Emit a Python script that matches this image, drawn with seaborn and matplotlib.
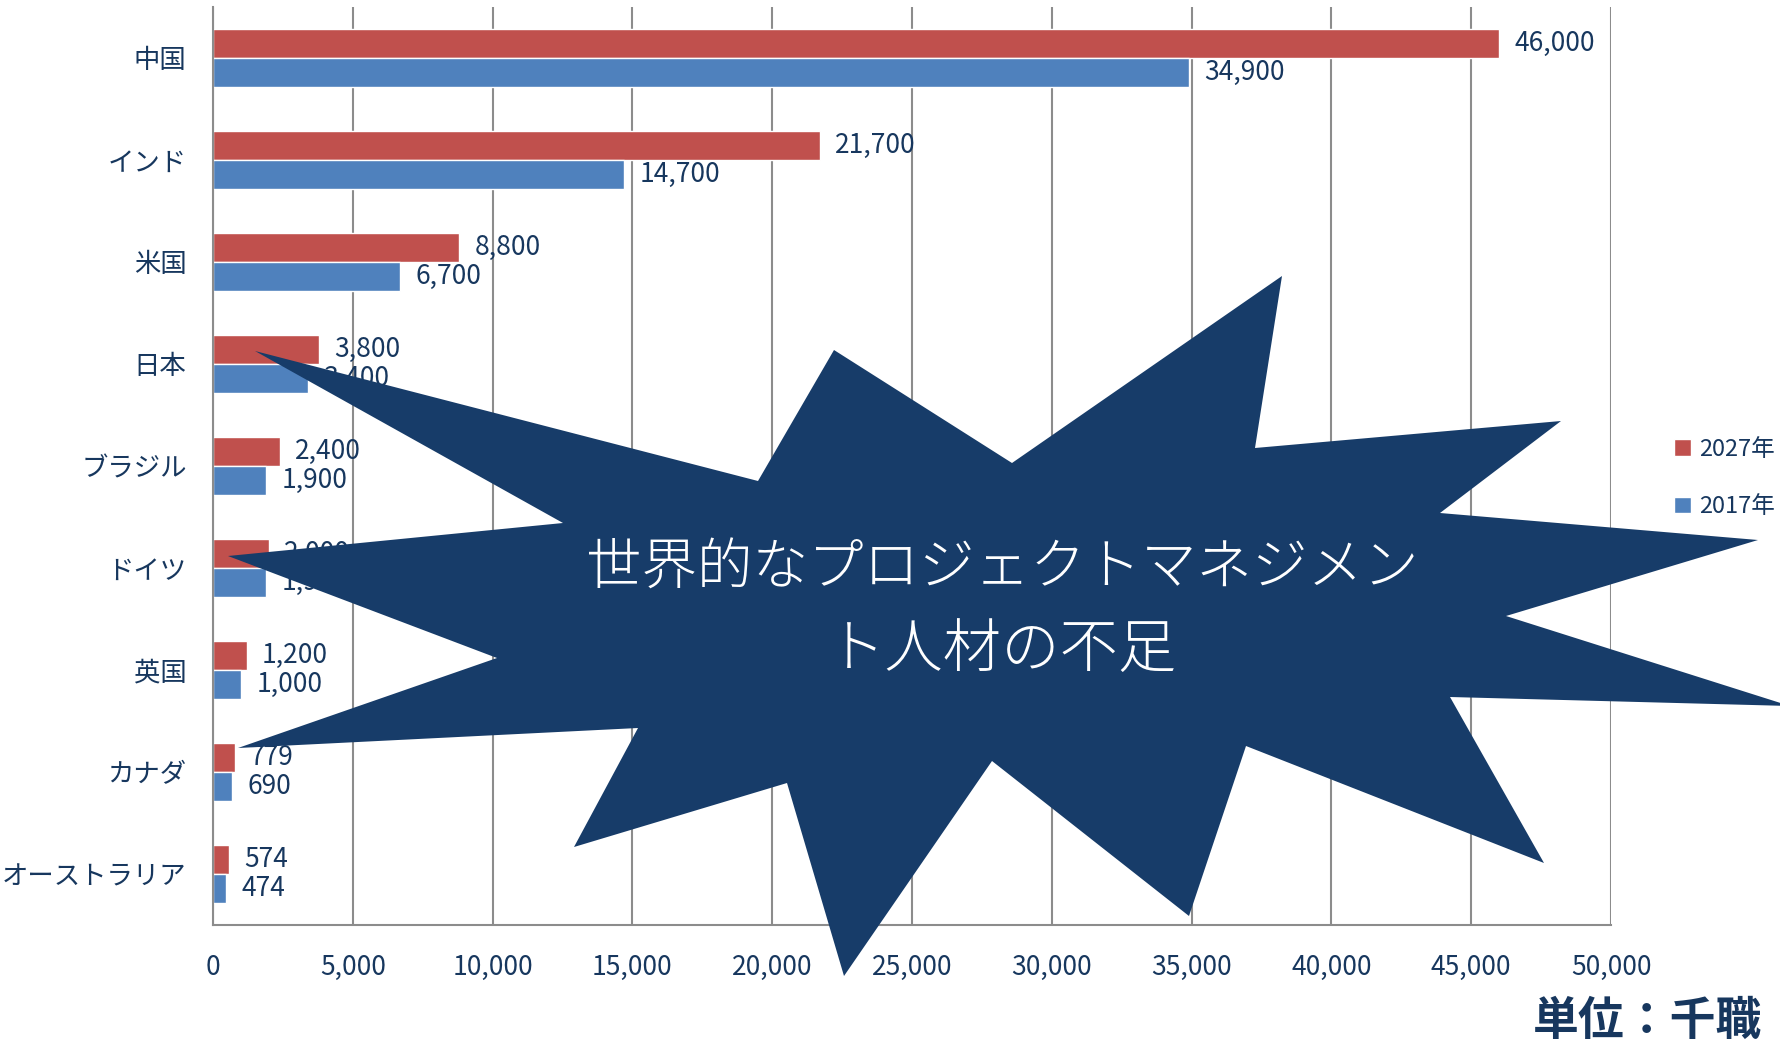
import matplotlib

matplotlib.use("Agg")
import matplotlib.pyplot as plt
import pandas as pd
import seaborn as sns
from matplotlib.patches import Polygon, Patch
from matplotlib.ticker import FuncFormatter

# data (千職)
countries = ["中国", "インド", "米国", "日本", "ブラジル", "ドイツ", "英国", "カナダ", "オーストラリア"]
years = ["2027年", "2017年"]
jobs_2027 = [46000, 21700, 8800, 3800, 2400, 2000, 1200, 779, 574]
jobs_2017 = [34900, 14700, 6700, 3400, 1900, 1900, 1000, 690, 474]
x_ticks = list(range(0, 50001, 5000))

df = pd.DataFrame(
    {
        "country": countries * 2,
        "year": [years[0]] * len(countries) + [years[1]] * len(countries),
        "jobs": jobs_2027 + jobs_2017,
    }
)

navy = "#17375E"
grid_c = "#8C8C8C"
red = "#C0504D"
blue = "#4F81BD"

sns.set_style("white")
plt.rcParams["font.family"] = ["Noto Sans CJK JP", "DejaVu Sans"]

W, H = 1780, 1050
fig = plt.figure(figsize=(W / 100, H / 100), dpi=100)
ax = fig.add_axes([213 / W, 1 - 925 / H, (1611 - 213) / W, (925 - 7) / H])

sns.barplot(
    data=df,
    y="country",
    x="jobs",
    hue="year",
    hue_order=years,
    palette=[red, blue],
    orient="h",
    width=0.57,
    saturation=1,
    legend=False,
    ax=ax,
)

for cont in ax.containers:
    ax.bar_label(cont, fmt="{:,.0f}", padding=11, fontsize=19, color=navy)

ax.set_xlim(0, 50000)
ax.set_ylim(8.5, -0.5)
ax.set_xticks(x_ticks)
ax.xaxis.set_major_formatter(FuncFormatter(lambda v, p: f"{int(v):,}"))
ax.set_xlabel("")
ax.set_ylabel("")
ax.tick_params(axis="x", length=0, pad=21, labelsize=19, labelcolor=navy)
ax.tick_params(axis="y", length=0, pad=19, labelsize=19, labelcolor=navy)
ax.grid(axis="x", color=grid_c, lw=1.5)
ax.grid(axis="y", visible=False)
ax.set_axisbelow(True)
for side in ["top", "right"]:
    ax.spines[side].set_visible(False)
for side in ["left", "bottom"]:
    ax.spines[side].set_color(grid_c)
    ax.spines[side].set_linewidth(1.5)

handles = [Patch(facecolor=red), Patch(facecolor=blue)]
fig.legend(
    handles,
    years,
    loc="center left",
    bbox_to_anchor=(1674 / W, 1 - 478 / H),
    borderaxespad=0,
    frameon=False,
    fontsize=17,
    handlelength=0.7,
    handleheight=0.7,
    handletextpad=0.35,
    labelspacing=1.45,
    borderpad=0,
    labelcolor=navy,
)

# overlay for the starburst callout and unit text, in pixel coordinates
ov = fig.add_axes([0, 0, 1, 1])
ov.set_xlim(0, W)
ov.set_ylim(H, 0)
ov.axis("off")
ov.patch.set_alpha(0)

star = [
    (834, 350), (1012, 463), (1282, 276), (1255, 448), (1561, 421), (1440, 513),
    (1758, 540), (1506, 616), (1790, 706), (1450, 697), (1544, 863), (1246, 746),
    (1189, 916), (992, 761), (844, 976), (787, 783), (574, 847), (638, 728),
    (238, 748), (497, 658), (228, 556), (563, 523), (255, 351), (758, 481),
]
ov.add_patch(Polygon(star, closed=True, facecolor="#173C69", edgecolor="none"))
ov.text(1002, 568, "世界的なプロジェクトマネジメン", color="white", fontsize=40,
        fontweight="light", ha="center", va="center")
ov.text(1002, 651, "ト人材の不足", color="white", fontsize=42,
        fontweight="light", ha="center", va="center")

ov.text(1762, 1022, "単位：千職", color=navy, fontsize=33, fontweight="bold",
        ha="right", va="center")

fig.savefig("out.png", dpi=100)
